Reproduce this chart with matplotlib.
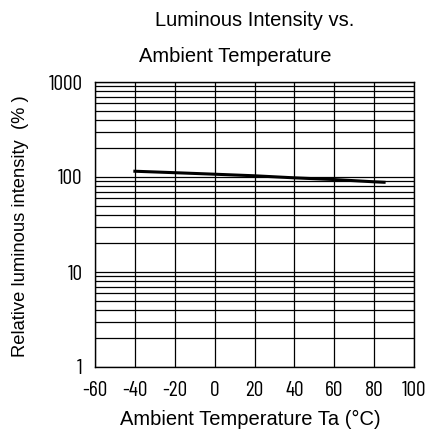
import numpy as np
import matplotlib
matplotlib.use("Agg")
import matplotlib.pyplot as plt
from matplotlib.ticker import FixedLocator, LogLocator, NullFormatter

# data
temps = [-40, -20, 0, 20, 40, 60, 80, 85]
intensity = [115, 111, 107, 103, 98, 94, 89, 88]

x_ticks = [-60, -40, -20, 0, 20, 40, 60, 80, 100]
x_labels = ["-60", "-40", "-20", "0", "20", "40", "60", "80", "100"]
y_ticks = [1, 10, 100, 1000]
y_labels = ["1", "10", "100", "1000"]

plt.rcParams["font.family"] = ["Liberation Sans", "DejaVu Sans"]

fig = plt.figure(figsize=(4.3, 4.37), dpi=100)
W, H = 430, 437
ax = fig.add_axes([95 / W, 1 - 367 / H, 319 / W, 285 / H])

ax.set_yscale("log")
ax.set_xlim(-60, 100)
ax.set_ylim(1, 1000)

ax.xaxis.set_major_locator(FixedLocator(x_ticks))
ax.yaxis.set_major_locator(FixedLocator(y_ticks))
ax.yaxis.set_minor_locator(LogLocator(base=10, subs=np.arange(2, 10)))
ax.yaxis.set_minor_formatter(NullFormatter())
ax.set_xticklabels(x_labels)
ax.set_yticklabels(y_labels)

ax.grid(True, which="major", color="black", linewidth=0.9)
ax.grid(True, which="minor", axis="y", color="black", linewidth=0.9)
ax.tick_params(axis="x", which="both", length=0, pad=10)
ax.tick_params(axis="y", which="both", length=0, pad=9)
for lbl in ax.get_xticklabels() + ax.get_yticklabels():
    lbl.set_family(["Barlow Condensed", "DejaVu Sans"])
    lbl.set_fontsize(15.5)
for s in ax.spines.values():
    s.set_linewidth(1.0)

ax.plot(temps, intensity, color="black", linewidth=2.2)

fig.text(255 / W, 1 - 21 / H, "Luminous Intensity vs.", ha="center", va="center", fontsize=14.5)
fig.text(235 / W, 1 - 56 / H, "Ambient Temperature", ha="center", va="center", fontsize=14.5)
fig.text(250 / W, 1 - 419 / H, "Ambient Temperature Ta (\u00b0C)", ha="center", va="center", fontsize=14.5)
fig.text(21 / W, 1 - 226 / H, "Relative luminous intensity  (% )", ha="center", va="center",
         rotation=90, fontsize=13.2)

fig.savefig("out.png", dpi=100)
